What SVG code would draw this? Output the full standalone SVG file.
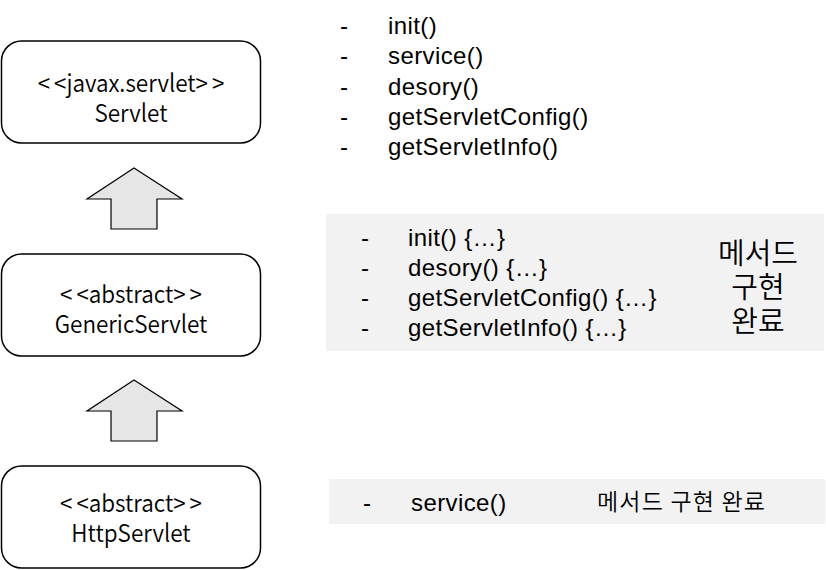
<svg xmlns="http://www.w3.org/2000/svg" width="826" height="570" viewBox="0 0 826 570">
<style>
.box{fill:#fff;stroke:#000;stroke-width:1.5}
.arr{fill:#e6e6e6;stroke:#000;stroke-width:1.2;stroke-linejoin:miter}
.nt{font-family:"Noto Sans CJK KR","Noto Sans",sans-serif;font-size:22.5px;font-weight:350;fill:#000;text-anchor:middle}
.lt{font-family:"Liberation Sans",Arial,sans-serif;font-size:24px;letter-spacing:0.4px;fill:#000}
.kt{font-family:"Noto Sans CJK KR",sans-serif;font-weight:350;fill:#000}
.bg{fill:#f2f2f2}
</style>
<g id="panel-servlet">
<text class="lt" x="340" y="34">-</text><text class="lt" x="388" y="34">init()</text>
<text class="lt" x="340" y="64">-</text><text class="lt" x="388" y="64">service()</text>
<text class="lt" x="340" y="94.5">-</text><text class="lt" x="388" y="94.5">desory()</text>
<text class="lt" x="340" y="125">-</text><text class="lt" x="388" y="125">getServletConfig()</text>
<text class="lt" x="340" y="155">-</text><text class="lt" x="388" y="155">getServletInfo()</text>
</g>
<g id="panel-generic">
<rect class="bg" x="326" y="214" width="498" height="137"/>
<text class="lt" x="361" y="246">-</text><text class="lt" x="408" y="246">init() {…}</text>
<text class="lt" x="361" y="276">-</text><text class="lt" x="408" y="276">desory() {…}</text>
<text class="lt" x="361" y="306">-</text><text class="lt" x="408" y="306">getServletConfig() {…}</text>
<text class="lt" x="361" y="336">-</text><text class="lt" x="408" y="336">getServletInfo() {…}</text>
<text class="kt" font-size="29" text-anchor="middle"><tspan x="758" y="264">메서드</tspan><tspan x="758" y="298">구현</tspan><tspan x="758" y="332">완료</tspan></text>
</g>
<g id="panel-http">
<rect class="bg" x="329" y="479" width="496" height="45"/>
<text class="lt" x="363" y="511">-</text><text class="lt" x="411" y="511">service()</text>
<text class="kt" x="597" y="510" font-size="23" letter-spacing="1.2">메서드 구현 완료</text>
</g>
<g id="node-servlet">
<rect class="box" x="1.5" y="41" width="259" height="102" rx="20"/>
<text class="nt" transform="translate(131,92) scale(1,1.08)">&lt;<tspan dx="4">&lt;</tspan>javax.servlet&gt;<tspan dx="4">&gt;</tspan></text>
<text class="nt" transform="translate(131,121.5) scale(1,1.08)">Servlet</text>
</g>
<g id="node-generic">
<rect class="box" x="1.5" y="254" width="259" height="102" rx="20"/>
<text class="nt" transform="translate(131,303) scale(1,1.08)">&lt;<tspan dx="4">&lt;</tspan>abstract&gt;<tspan dx="4">&gt;</tspan></text>
<text class="nt" transform="translate(131,333) scale(1,1.08)">GenericServlet</text>
</g>
<g id="node-http">
<rect class="box" x="1.5" y="466" width="259" height="102" rx="20"/>
<text class="nt" transform="translate(131,512) scale(1,1.08)">&lt;<tspan dx="4">&lt;</tspan>abstract&gt;<tspan dx="4">&gt;</tspan></text>
<text class="nt" transform="translate(131,542) scale(1,1.08)">HttpServlet</text>
</g>
<g id="connectors">
<polygon class="arr" points="134,168 182,199 157,199 157,229 111,229 111,199 87,199"/>
<polygon class="arr" points="134,380 182,411 157,411 157,441 111,441 111,411 87,411"/>
</g>
</svg>
